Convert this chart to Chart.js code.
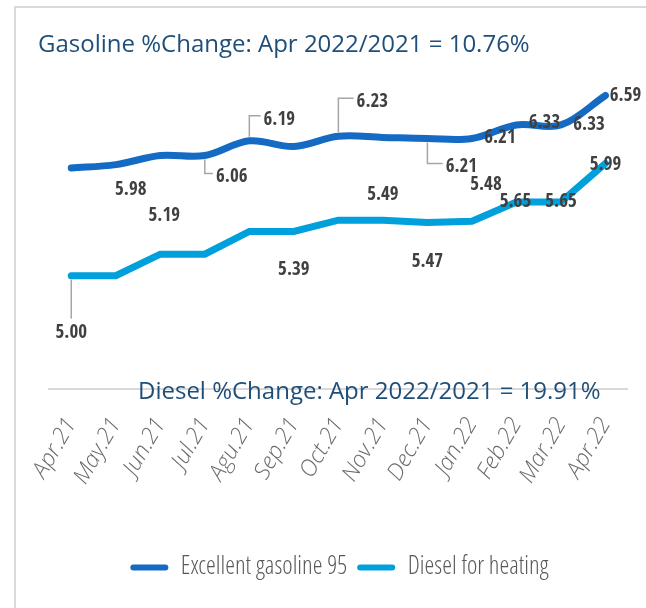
<!DOCTYPE html>
<html lang="en">

<head>
  <meta charset="UTF-8">
  <title>Gasoline and Diesel Prices</title>
  <script src="https://cdn.jsdelivr.net/npm/chart.js"></script>
  <style>
    body {
      margin: 0;
      background: #fff;
    }
  </style>
</head>

<body>
  <canvas id="fuelChart" width="646" height="608"></canvas>

  <script>
    // data
    const months = ["Apr.21", "May.21", "Jun.21", "Jul.21", "Agu.21", "Sep.21", "Oct.21",
      "Nov.21", "Dec.21", "Jan.22", "Feb.22", "Mar.22", "Apr.22"];
    const gasoline = [5.95, 5.98, 6.06, 6.06, 6.19, 6.14, 6.23, 6.22, 6.21, 6.21, 6.33, 6.33, 6.59];
    const diesel = [5.00, 5.00, 5.19, 5.19, 5.39, 5.39, 5.49, 5.49, 5.47, 5.48, 5.65, 5.65, 5.99];
    const seriesNames = ["Excellent gasoline 95", "Diesel for heating"];
    const gasolineTitle = "Gasoline %Change: Apr 2022/2021 = 10.76%";
    const dieselTitle = "Diesel %Change: Apr 2022/2021 = 19.91%";

    // where each data label sits relative to its point: [dx, dy, leader]
    const labelPlacement = [
      { 1: [15, 25], 3: [27, 22, true], 4: [30, -21, true], 6: [34, -34, true], 8: [34, 29, true],
        9: [28, 0], 10: [28, -2], 11: [28, 0], 12: [20, 1] },
      { 0: [0, 57, true], 2: [4, -38], 5: [0, 39], 7: [0, -25], 8: [0, 40], 9: [14, -36],
        10: [-1, 0], 11: [0, 0], 12: [0, 2] }
    ];

    const labelFont = "bold 19px 'Open Sans Condensed', 'DejaVu Sans Condensed', sans-serif";
    const titleFont = "24px 'Open Sans', sans-serif";

    const extras = {
      id: "extras",
      beforeDraw(chart) {
        const ctx = chart.ctx;
        ctx.save();
        ctx.strokeStyle = "#d9d9d9";
        ctx.lineWidth = 2;
        ctx.beginPath();
        ctx.moveTo(15, chart.height);
        ctx.lineTo(15, 7);
        ctx.lineTo(chart.width, 7);
        ctx.stroke();
        ctx.restore();
      },
      afterDatasetsDraw(chart) {
        const ctx = chart.ctx;
        ctx.save();
        ctx.font = labelFont;
        ctx.textAlign = "center";
        ctx.textBaseline = "middle";
        chart.data.datasets.forEach((ds, di) => {
          const meta = chart.getDatasetMeta(di);
          const place = labelPlacement[di];
          meta.data.forEach((pt, i) => {
            if (!place[i]) return;
            const [dx, dy, leader] = place[i];
            const text = ds.data[i].toFixed(2);
            const lx = pt.x + dx, ly = pt.y + dy;
            if (leader) {
              const w = ctx.measureText(text).width;
              ctx.strokeStyle = "#a6a6a6";
              ctx.lineWidth = 1.5;
              ctx.beginPath();
              if (dx === 0) {
                ctx.moveTo(pt.x, pt.y + 4);
                ctx.lineTo(pt.x, ly - 14);
              } else {
                const sy = dy > 0 ? pt.y + 4 : pt.y - 4;
                ctx.moveTo(pt.x, sy);
                ctx.lineTo(pt.x, ly - 4);
                ctx.lineTo(lx - w / 2 - 3, ly - 4);
              }
              ctx.stroke();
            }
            ctx.fillStyle = "#404040";
            ctx.fillText(text, lx, ly);
          });
        });
        ctx.restore();
      },
      afterDraw(chart) {
        const ctx = chart.ctx;
        ctx.save();
        ctx.font = titleFont;
        ctx.fillStyle = "#1f4e79";
        ctx.textAlign = "left";
        ctx.textBaseline = "middle";
        ctx.fillText(gasolineTitle, 38, 45);
        ctx.fillText(dieselTitle, 138, chart.chartArea.bottom + 3);
        ctx.restore();
      }
    };

    new Chart(document.getElementById("fuelChart"), {
      type: "line",
      data: {
        labels: months,
        datasets: [{
          label: seriesNames[0],
          data: gasoline,
          borderColor: "#156bc4",
          backgroundColor: "#156bc4",
          borderWidth: 7,
          borderCapStyle: "round",
          pointRadius: 0,
          tension: 0.35
        }, {
          label: seriesNames[1],
          data: diesel,
          borderColor: "#00a0dc",
          backgroundColor: "#00a0dc",
          borderWidth: 7,
          borderCapStyle: "round",
          pointRadius: 0,
          tension: 0
        }]
      },
      options: {
        responsive: false,
        animation: false,
        devicePixelRatio: 1,
        layout: { padding: { top: 49, left: 49, right: 16, bottom: 18 } },
        scales: {
          y: { display: false, min: 4, max: 7 },
          x: {
            offset: true,
            grid: { display: false },
            border: { color: "#d9d9d9", width: 2 },
            ticks: {
              minRotation: 60,
              maxRotation: 60,
              padding: 16,
              color: "#6b6b6b",
              font: { family: "'Open Sans', sans-serif", size: 23, style: "italic", weight: 300 }
            },
            afterFit(scale) { scale.height = 156; }
          }
        },
        plugins: {
          tooltip: { enabled: false },
          legend: {
            position: "bottom",
            labels: {
              boxWidth: 38,
              boxHeight: 6,
              useBorderRadius: true,
              borderRadius: 3,
              padding: 10,
              color: "#595959",
              font: { family: "'Open Sans Condensed Light', 'Open Sans', sans-serif", size: 25, weight: 300 },
              generateLabels: chart => Chart.defaults.plugins.legend.labels.generateLabels(chart)
                .map(l => ({ ...l, lineWidth: 0, fillStyle: l.strokeStyle }))
            }
          }
        }
      },
      plugins: [extras]
    });
  </script>

</body>

</html>
